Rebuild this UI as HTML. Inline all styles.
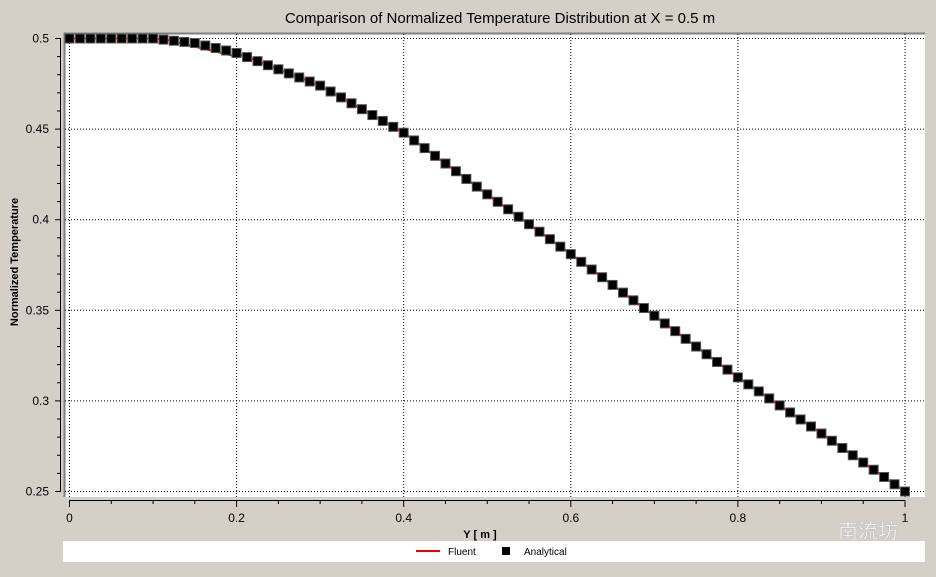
<!DOCTYPE html><html><head><style>body{margin:0;background:#d4d0c8;width:936px;height:572px;overflow:hidden}</style></head><body>
<svg id="s" width="936" height="572" xmlns="http://www.w3.org/2000/svg" font-family="Liberation Sans, sans-serif">
<rect width="936" height="572" fill="#d4d0c8"/>
<text x="500" y="23" font-size="15" text-anchor="middle">Comparison of Normalized Temperature Distribution at X = 0.5 m</text>
<rect x="64" y="33" width="861" height="464" fill="#fff"/>
<path d="M64.5 497V33.5H925" stroke="#808080" stroke-width="2" fill="none"/>
<g id="grid" stroke="#000" stroke-dasharray="1,2" stroke-width="1"></g>
<g id="axes" stroke="#000" stroke-width="1"></g>
<g id="lbl" font-size="12"></g>
<path id="red" fill="none" stroke="#e00" stroke-width="2"/>
<g id="mk" fill="#000" stroke="#555" stroke-width="1"></g>
<text x="480" y="538" font-size="11" font-weight="bold" text-anchor="middle">Y [ m ]</text>
<text transform="translate(18,262) rotate(-90)" font-size="11" font-weight="bold" text-anchor="middle">Normalized Temperature</text>
<rect x="63" y="541" width="862" height="21" fill="#fff"/>
<line x1="416" y1="551" x2="440" y2="551" stroke="#e00" stroke-width="2"/>
<text x="448" y="555" font-size="10">Fluent</text>
<rect x="502" y="547" width="8" height="8" fill="#000"/>
<text x="524" y="555" font-size="10">Analytical</text>
<text x="838" y="538" font-size="20" fill="#fff" stroke="#bbb" stroke-width="0.5" font-family="Liberation Sans, Noto Sans CJK SC, sans-serif">南流坊</text>
</svg>
<script>
const X=v=>69.5+v*835.5, Y=v=>38.5+(0.5-v)/0.25*453;
const ns="http://www.w3.org/2000/svg";
function el(p,t,a,txt){const e=document.createElementNS(ns,t);for(const k in a)e.setAttribute(k,a[k]);if(txt!=null)e.textContent=txt;document.getElementById(p).appendChild(e);}
for(let i=0;i<=5;i++){const v=i*0.2;el("grid","line",{x1:X(v),x2:X(v),y1:34,y2:497});
 el("axes","line",{x1:X(v),x2:X(v),y1:500,y2:507});el("lbl","text",{x:X(v),y:522,"text-anchor":"middle"},String(+v.toFixed(1)));}
for(let i=0;i<20;i++){if(i%4)el("axes","line",{x1:X(i*0.05),x2:X(i*0.05),y1:500,y2:504});}
el("axes","line",{x1:69.5,x2:905,y1:500.5,y2:500.5});
for(let i=0;i<=5;i++){const v=0.25+i*0.05;el("grid","line",{x1:65,x2:925,y1:Y(v),y2:Y(v)});
 el("lbl","text",{x:49,y:Y(v)+4,"text-anchor":"end"},String(+v.toFixed(2)));}
for(let i=0;i<=25;i++){const v=0.25+i*0.01;el("axes","line",{x1:i%5?57:55,x2:61,y1:Y(v),y2:Y(v)});}
el("axes","line",{x1:60.5,x2:60.5,y1:Y(0.5),y2:Y(0.25)});
const P=[[0,0.5],[0.1,0.5],[0.15,0.4975],[0.2,0.492],[0.3,0.474],[0.4,0.448],[0.5,0.414],[0.6,0.381],[0.7,0.347],[0.8,0.313],[0.9,0.282],[1,0.25]];
function f(x){for(let i=0;i<P.length-1;i++){if(x<=P[i+1][0]){const[a,b]=P[i],[c,d]=P[i+1];let t=(x-a)/(c-a);return b+(d-b)*t;}}return 0.25;}
let d="";for(let i=0;i<=200;i++){const x=i/200;let y=f(x);if(x>0.11&&x<0.2)y=0.5-(x-0.11)/0.09*0.01;d+=(i?"L":"M")+X(x).toFixed(1)+" "+Y(y).toFixed(1);}
document.getElementById("red").setAttribute("d",d);
for(let i=0;i<=80;i++){const x=i/80;el("mk","rect",{x:X(x)-4.5,y:Y(f(x))-4.5,width:9,height:9});}
</script></body></html>
